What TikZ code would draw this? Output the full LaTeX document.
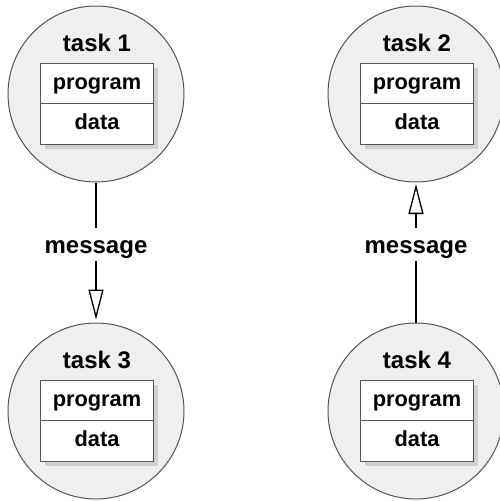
\documentclass[tikz,border=0pt]{standalone}
\usepackage{fontspec}
\setmainfont{Liberation Sans}
\usetikzlibrary{arrows.meta}
\definecolor{taskfill}{HTML}{EEF0EE}
\definecolor{taskline}{HTML}{555555}
\definecolor{boxshade}{HTML}{CFCFCF}
\tikzset{
  task/.style={circle, draw=taskline, fill=taskfill, line width=1pt, minimum size=176pt, inner sep=0pt},
  title/.style={font=\fontsize{24}{28}\selectfont\bfseries, inner sep=0pt},
  part/.style={draw=taskline, fill=white, line width=1pt, minimum width=113pt, minimum height=40.5pt,
    inner sep=0pt, text height=16pt, text depth=4.5pt, font=\fontsize{21.8}{25}\selectfont\bfseries},
  shade/.style={fill=boxshade},
  msg/.style={line width=1.3pt, -{Triangle[open, length=30pt, width=15pt, line width=1.3pt]}},
  lbl/.style={fill=white, font=\fontsize{24}{28}\selectfont\bfseries, text height=20pt, text depth=2pt,
    inner ysep=5.5pt, inner xsep=2pt}
}
\begin{document}
\begin{tikzpicture}[x=1pt, y=-1pt]
\useasboundingbox (0,0) rectangle (500,501);
\foreach \n/\cx/\cy in {1/96/94, 2/416/94, 3/96/411, 4/416/411}{
  \node[task] (t\n) at (\cx,\cy) {};
  \fill[shade] (\cx-56.5+5, \cy-31+5) rectangle (\cx+56.5+5, \cy+50+5);
  \node[title] (t\n title) at (\cx+1, \cy-51) {task \n};
  \node[part] (t\n prog) at (\cx+1, \cy-10.75) {program};
  \node[part] (t\n data) at (\cx+1, \cy+29.75) {data};
}
\draw[msg, shorten >=3pt] (t1) -- node[lbl, pos=0.445] (m1) {message} (t3);
\draw[msg, shorten >=1.5pt] (t4) -- node[lbl, pos=0.56] (m2) {message} (t2);
\end{tikzpicture}
\end{document}
